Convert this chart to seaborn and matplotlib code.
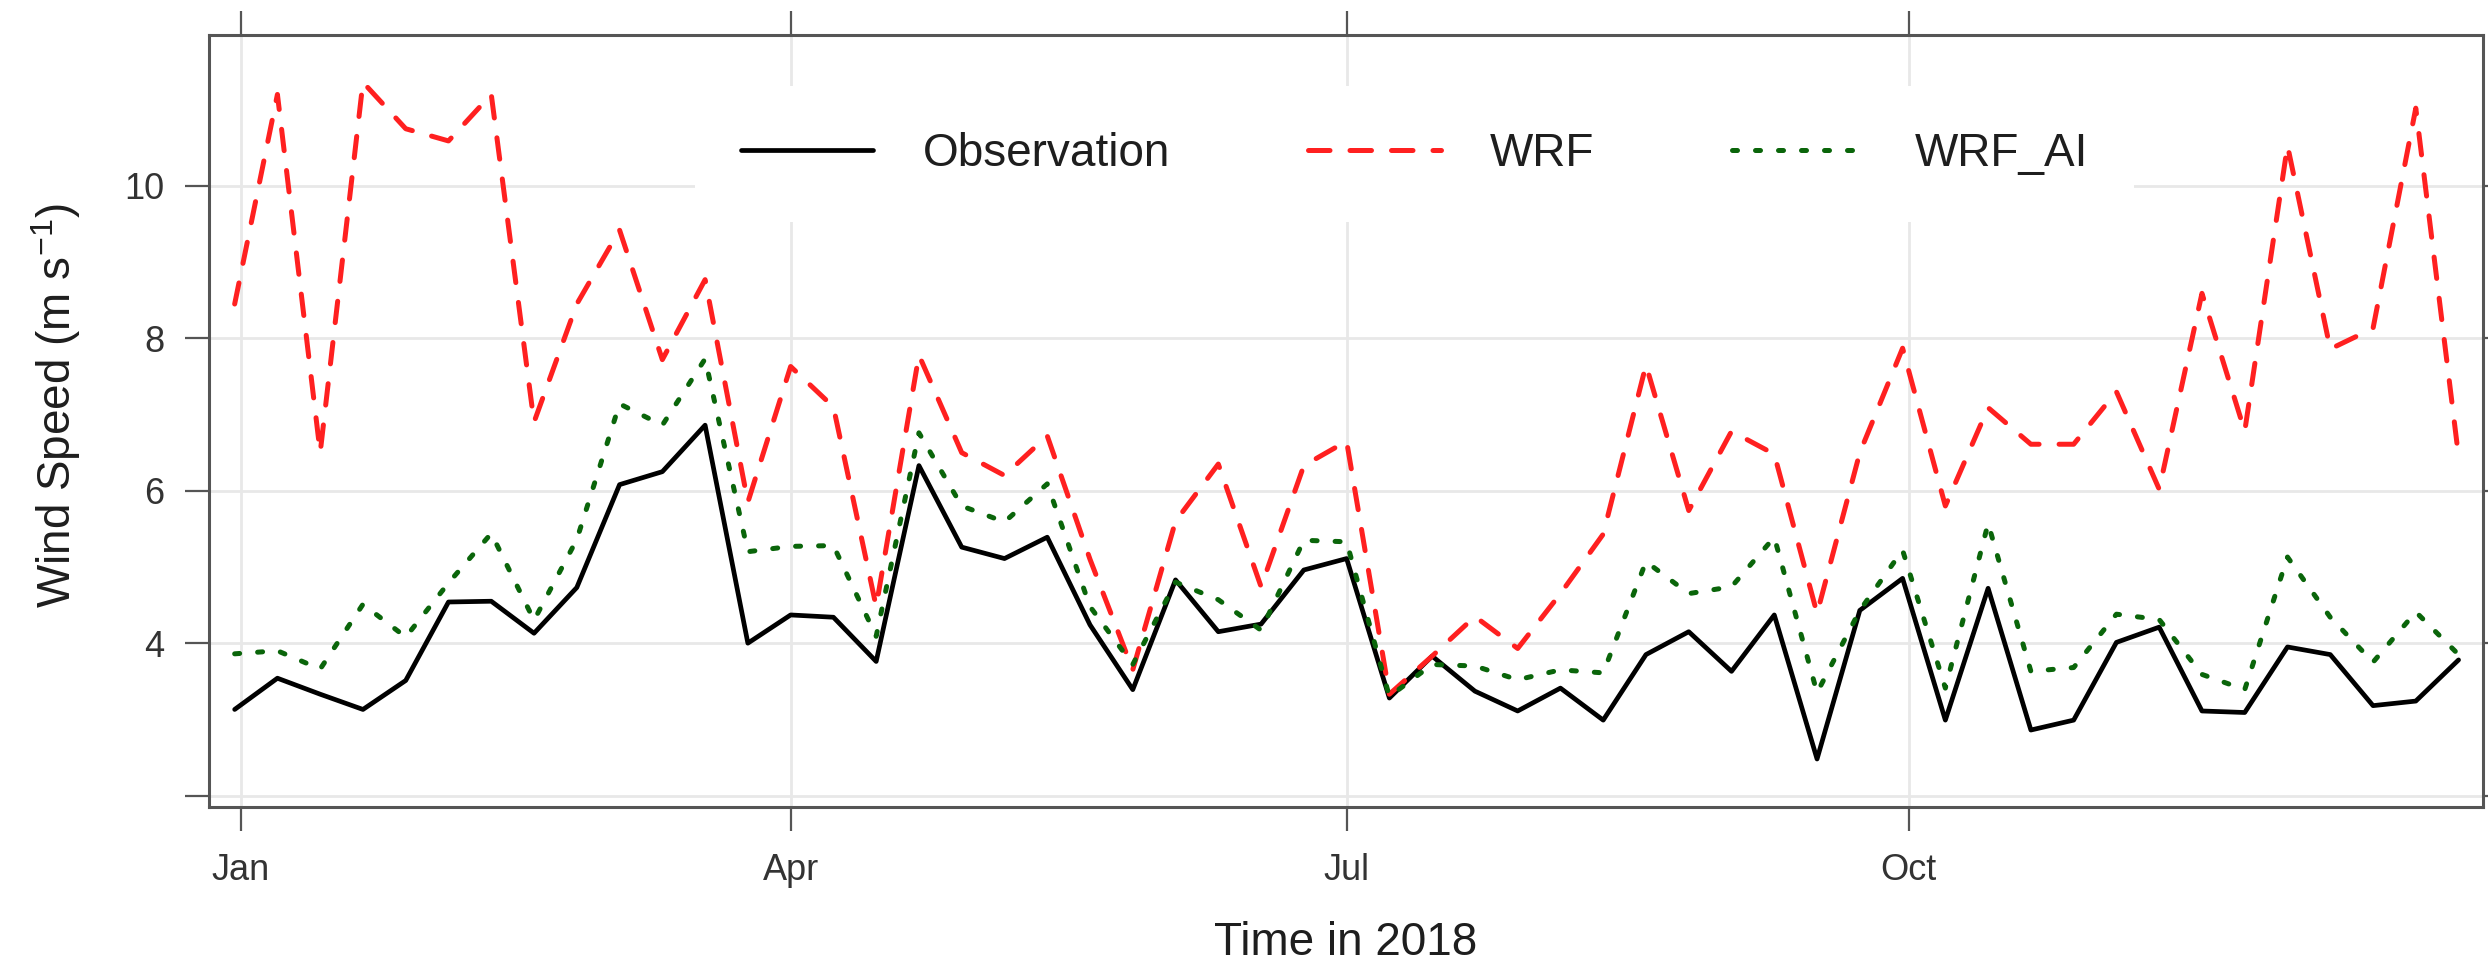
import numpy as np
import pandas as pd
import matplotlib
matplotlib.use("Agg")
import matplotlib.pyplot as plt
import seaborn as sns

# ---------------- data ----------------
start_date = "2017-12-31"   # weekly series, 53 points
n_weeks = 53

observation = [3.13, 3.54, 3.33, 3.13, 3.51, 4.54, 4.55, 4.13, 4.73, 6.08,
               6.25, 6.86, 4.00, 4.37, 4.34, 3.76, 6.33, 5.26, 5.11, 5.39,
               4.24, 3.39, 4.83, 4.15, 4.25, 4.96, 5.11, 3.28, 3.83, 3.37,
               3.11, 3.41, 2.99, 3.85, 4.15, 3.63, 4.37, 2.48, 4.43, 4.85,
               2.99, 4.72, 2.86, 2.99, 4.01, 4.21, 3.11, 3.09, 3.95, 3.85,
               3.18, 3.24, 3.78]

wrf = [8.45, 11.20, 6.50, 11.36, 10.75, 10.59, 11.20, 6.90, 8.45, 9.42,
       7.72, 8.77, 5.85, 7.63, 7.10, 4.48, 7.78, 6.50, 6.20, 6.72,
       5.10, 3.65, 5.60, 6.35, 4.74, 6.33, 6.65, 3.33, 3.83, 4.35,
       3.93, 4.65, 5.43, 7.65, 5.74, 6.78, 6.48, 4.39, 6.50, 7.87,
       5.80, 7.09, 6.61, 6.61, 7.30, 6.02, 8.59, 6.78, 10.53, 7.86,
       8.13, 11.02, 6.45]

wrf_ai = [3.86, 3.90, 3.66, 4.51, 4.08, 4.79, 5.44, 4.30, 5.36, 7.14,
          6.86, 7.73, 5.20, 5.27, 5.28, 4.09, 6.76, 5.80, 5.59, 6.09,
          4.48, 3.72, 4.80, 4.57, 4.17, 5.35, 5.33, 3.30, 3.72, 3.70,
          3.52, 3.65, 3.61, 5.07, 4.65, 4.74, 5.39, 3.35, 4.43, 5.22,
          3.41, 5.57, 3.63, 3.68, 4.38, 4.31, 3.59, 3.39, 5.13, 4.34,
          3.75, 4.41, 3.85]

series_names = ["Observation", "WRF", "WRF_AI"]
month_ticks = ["2018-01-01", "2018-04-01", "2018-07-01", "2018-10-01"]
month_labels = ["Jan", "Apr", "Jul", "Oct"]
y_ticks = [2, 4, 6, 8, 10]
y_tick_labels = ["", "4", "6", "8", "10"]
x_label = "Time in 2018"
y_label = r"Wind Speed (m s$^{-1}$)"

# ---------------- frame ----------------
dates = pd.date_range(start_date, periods=n_weeks, freq="7D")
df = pd.DataFrame({"date": dates,
                   "Observation": observation,
                   "WRF": wrf,
                   "WRF_AI": wrf_ai})

sns.set_theme(style="white")
plt.rcParams["font.family"] = ["Liberation Sans", "DejaVu Sans"]
plt.rcParams["mathtext.default"] = "regular"

W, H = 2488, 971
fig = plt.figure(figsize=(W / 100, H / 100), dpi=100)
ax_l, ax_r, ax_t, ax_b = 209, 2483, 35, 807
ax = fig.add_axes([ax_l / W, (H - ax_b) / H, (ax_r - ax_l) / W, (ax_b - ax_t) / H])

styles = {
    "Observation": dict(color="black", linestyle="-", linewidth=3.4),
    "WRF": dict(color="#ff2020", linestyle=(0, (4.3, 4.0)), linewidth=3.6,
                dash_capstyle="round"),
    "WRF_AI": dict(color="#0a650a", linestyle=(0, (1.0, 3.6)), linewidth=3.6,
                   dash_capstyle="round"),
}

for name in series_names:
    sns.lineplot(data=df, x="date", y=name, ax=ax, label=name, zorder=3,
                 **styles[name])

# ---------------- axes ----------------
ax.set_xlim(dates[0] - pd.Timedelta(days=4.2), dates[-1] + pd.Timedelta(days=4.0))
ax.set_ylim(1.85, 11.98)

ax.set_xticks(pd.to_datetime(month_ticks))
ax.set_xticklabels(month_labels)
ax.set_yticks(y_ticks)
ax.set_yticklabels(y_tick_labels)

ax.grid(True, color="#e8e8e8", linewidth=2.0, zorder=0)
ax.set_axisbelow(True)

for sp in ax.spines.values():
    sp.set_color("#555555")
    sp.set_linewidth(2.2)

ax.tick_params(axis="x", which="both", direction="out", length=17, width=1.6,
               color="#555555", labelsize=26, labelcolor="#333333", pad=16,
               bottom=True, top=True, labelbottom=True, labeltop=False)
ax.tick_params(axis="y", which="both", direction="out", length=17, width=1.6,
               color="#555555", labelsize=26, labelcolor="#333333", pad=15,
               left=True, right=True, labelleft=True, labelright=False)

ax.set_xlabel(x_label, fontsize=33, color="#1e1e1e")
ax.set_ylabel(y_label, fontsize=33, color="#1e1e1e")
ax.xaxis.set_label_coords(0.5, (ax_b - 943) / (ax_b - ax_t))
ax.xaxis.label.set_va("center")
ax.yaxis.set_label_coords((56 - ax_l) / (ax_r - ax_l), 0.52)
ax.yaxis.label.set_va("center")

leg = ax.legend(loc="center", bbox_to_anchor=(0.530, 0.846), ncol=3,
                frameon=True, fontsize=33, handlelength=2.9,
                handletextpad=1.08, columnspacing=3.0, borderpad=1.0,
                fancybox=False, framealpha=1, facecolor="white",
                edgecolor="none")
for t in leg.get_texts():
    t.set_color("#1e1e1e")
leg.set_zorder(5)

fig.savefig("out.png", dpi=100)
